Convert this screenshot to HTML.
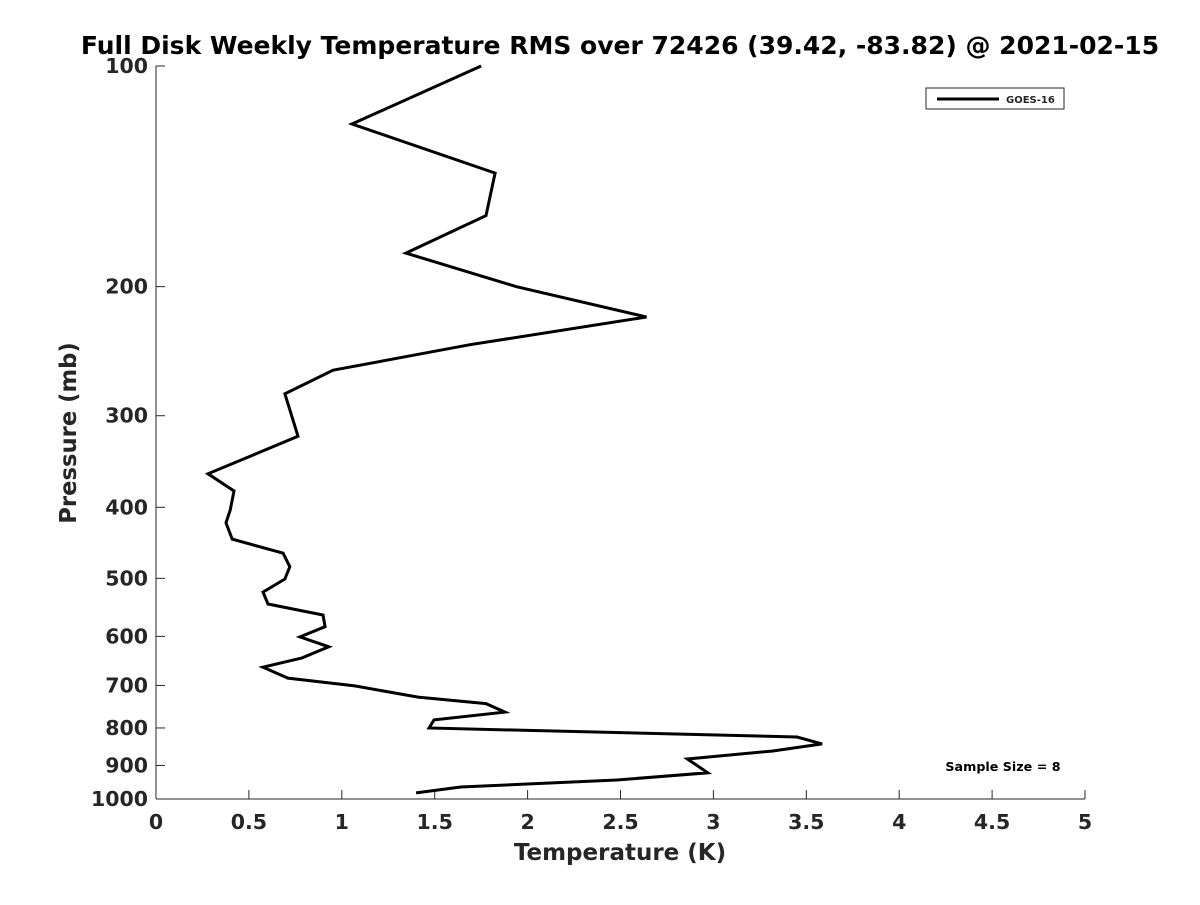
<!DOCTYPE html>
<html><head><meta charset="utf-8"><style>
html,body{margin:0;padding:0;background:#fff;}
svg text{font-family:"DejaVu Sans","Liberation Sans",sans-serif;font-weight:bold;fill:#262626;}
</style></head><body>
<svg id="chart" width="1200" height="900" xmlns="http://www.w3.org/2000/svg">
<rect width="1200" height="900" fill="#fff"/>
<text x="620" y="54" font-size="25" text-anchor="middle" style="fill:#000">Full Disk Weekly Temperature RMS over 72426 (39.42, -83.82) @ 2021-02-15</text>
<g id="axes"></g>
<polyline id="series" fill="none" stroke="#000" stroke-width="3" stroke-linejoin="miter"/>
<g>
<rect x="926" y="88" width="138" height="21" fill="#fff" stroke="#262626" stroke-width="1"/>
<line x1="937" y1="99" x2="999" y2="99" stroke="#000" stroke-width="3"/>
<text x="1006" y="103" font-size="10">GOES-16</text>
</g>
<text x="1003" y="771" font-size="12.7" text-anchor="middle" style="fill:#000">Sample Size = 8</text>
<text x="620" y="860" font-size="23" text-anchor="middle">Temperature (K)</text>
<text transform="translate(76,433) rotate(-90)" font-size="22.7" text-anchor="middle">Pressure (mb)</text>
</svg>
<script>
const temps=[1.75,1.055,1.825,1.776,1.345,1.94,2.64,1.69,0.953,0.694,0.764,0.28,0.42,0.40,0.377,0.41,0.684,0.72,0.694,0.576,0.603,0.899,0.91,0.775,0.93,0.786,0.576,0.71,1.07,1.41,1.776,1.878,1.496,1.47,3.45,3.585,3.32,2.86,2.97,2.48,1.64,1.40];
const pressures=[100,120,140,160,180,200,220,240,260,280,320,360,380,403,420,442,462,482,501,522,542,561,582,601,620,642,661,684,701,726,741,761,780,800,823,841,860,882,921,942,963,981];
const xTicks=[0,0.5,1,1.5,2,2.5,3,3.5,4,4.5,5];
const xTickLabels=["0","0.5","1","1.5","2","2.5","3","3.5","4","4.5","5"];
const yTicks=[100,200,300,400,500,600,700,800,900,1000];
const yTickLabels=["100","200","300","400","500","600","700","800","900","1000"];
const X0=156,X1=1085,Y0=66,Y1=799;
function xs(v){return X0+(v-0)/5*(X1-X0);}
function ys(p){return Y0+Math.log10(p/100)*(Y1-Y0);}
const NS="http://www.w3.org/2000/svg";
const ax=document.getElementById('axes');
function mk(t,a){const e=document.createElementNS(NS,t);for(const k in a)e.setAttribute(k,a[k]);ax.appendChild(e);return e;}
let l=mk('line',{x1:X0,y1:Y0,x2:X0,y2:Y1,stroke:'#262626','stroke-width':1});


l=mk('line',{x1:X0,y1:Y1,x2:X1,y2:Y1,stroke:'#262626','stroke-width':1});


xTicks.forEach((v,i)=>{
 const x=xs(v);
 const t=mk('line',{x1:x,y1:Y1,x2:x,y2:Y1-9,stroke:'#262626','stroke-width':1});
 
 
 const tx=mk('text',{x:x,y:Y1+30,'font-size':20.5,'text-anchor':'middle'});
 tx.textContent=xTickLabels[i];
 
 
});
yTicks.forEach((v,i)=>{
 const y=ys(v);
 const t=mk('line',{x1:X0,y1:y,x2:X0+9,y2:y,stroke:'#262626','stroke-width':1});
 
 
 const tx=mk('text',{x:X0-8,y:y+7,'font-size':20.5,'text-anchor':'end'});
 tx.textContent=yTickLabels[i];
 
 
});
document.getElementById('series').setAttribute('points',temps.map((t,i)=>xs(t).toFixed(1)+','+ys(pressures[i]).toFixed(1)).join(' '));
</script>
</body></html>
